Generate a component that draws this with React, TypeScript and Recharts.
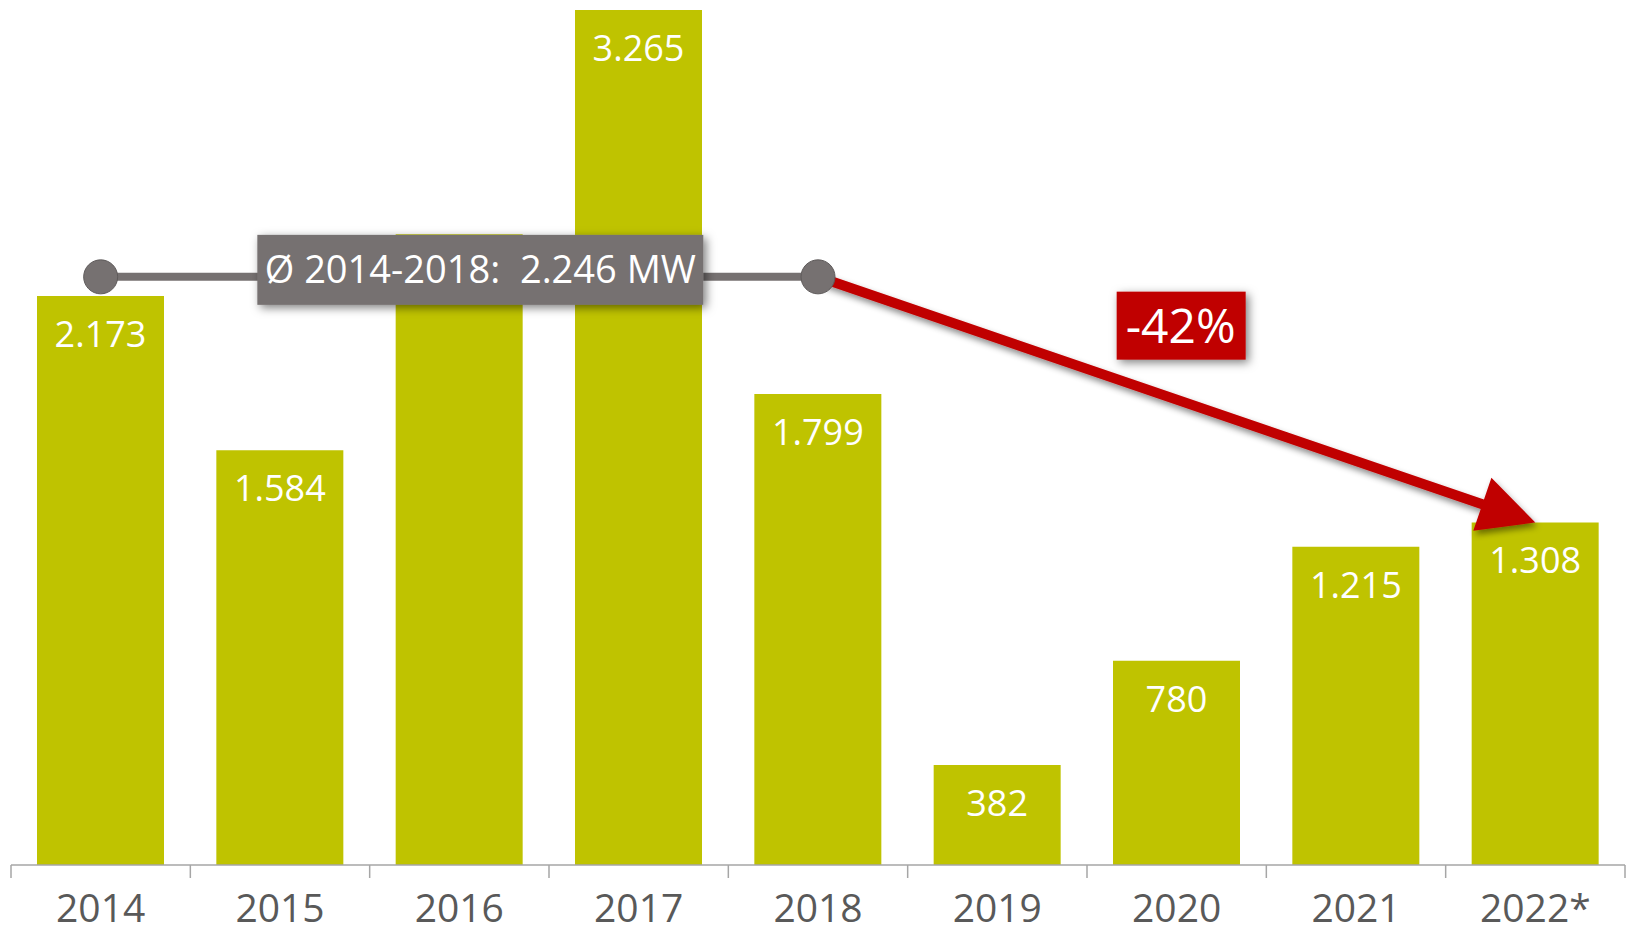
import { BarChart, Bar, XAxis, YAxis, LabelList, ReferenceLine, ReferenceDot } from 'recharts';

// Yearly installed capacity (MW)
const years = ['2014', '2015', '2016', '2017', '2018', '2019', '2020', '2021', '2022*'];
const installedMw = [2173, 1584, 2409, 3265, 1799, 382, 780, 1215, 1308];

// Average over the reference period
const avgPeriod = ['2014', '2018'];
const avgMw = 2246;

const W = 1631;
const H = 927;
const margin = { top: 10, right: 6, left: 11, bottom: 0 };
const BAND = (W - margin.left - margin.right) / years.length;

const FONT = '"Open Sans", sans-serif';
const BAR_COLOR = '#BFC300';
const GREY = '#767171';
const RED = '#C00000';

const chartData = years.map((year, i) => ({ year, mw: installedMw[i] }));

// German thousands separator: 2173 -> "2.173"
const fmt = (v: number) =>
  v >= 1000 ? `${Math.floor(v / 1000)}.${String(v % 1000).padStart(3, '0')}` : String(v);

const lastYear = years[years.length - 1];
const changePct = Math.round(((installedMw[installedMw.length - 1] - avgMw) / avgMw) * 100);

const renderTick = (props: any) => {
  const { x, y, payload } = props;
  const half = BAND / 2;
  return (
    <g>
      <line x1={x - half} y1={y} x2={x - half} y2={y + 13} stroke="#a6a6a6" strokeWidth={1.5} />
      {payload.value === lastYear && (
        <line x1={x + half} y1={y} x2={x + half} y2={y + 13} stroke="#a6a6a6" strokeWidth={1.5} />
      )}
      <text x={x} y={y + 57} textAnchor="middle" fill="#595959" fontSize={39} fontFamily={FONT}>
        {payload.value}
      </text>
    </g>
  );
};

const renderValue = (props: any) => {
  const { x, y, width, value, index } = props;
  // the 2016 value sits behind the average box
  if (years[index] === '2016') return null;
  return (
    <text x={x + width / 2} y={y + 51} textAnchor="middle" fill="#fff" fontSize={36} fontFamily={FONT}>
      {fmt(value)}
    </text>
  );
};

const arrowShape = (p: any) => {
  const { x1, y1, x2, y2 } = p;
  const dx = x2 - x1;
  const dy = y2 - y1;
  const len = Math.hypot(dx, dy) || 1;
  const ux = dx / len;
  const uy = dy / len;
  const nx = -uy;
  const ny = ux;
  const head = 56;
  const hw = 28;
  const sw = 5;
  const bx = x2 - ux * head;
  const by = y2 - uy * head;
  const pts = [
    [x1 + nx * sw, y1 + ny * sw],
    [bx + nx * sw, by + ny * sw],
    [bx + nx * hw, by + ny * hw],
    [x2, y2],
    [bx - nx * hw, by - ny * hw],
    [bx - nx * sw, by - ny * sw],
    [x1 - nx * sw, y1 - ny * sw],
  ]
    .map((q) => q.join(','))
    .join(' ');
  return (
    <g>
      <defs>
        <filter id="softShadow" x="-20%" y="-20%" width="140%" height="140%">
          <feDropShadow dx="2" dy="4" stdDeviation="3" floodColor="#000" floodOpacity="0.45" />
        </filter>
        <filter id="boxShadow" x="-20%" y="-30%" width="140%" height="160%">
          <feDropShadow dx="3" dy="3" stdDeviation="5" floodColor="#000" floodOpacity="0.5" />
        </filter>
      </defs>
      <polygon points={pts} fill={RED} filter="url(#softShadow)" />
    </g>
  );
};

const arrowLabel = (props: any) => {
  const { x, y, width, height } = props.viewBox;
  const cx = x + width / 2 + 4;
  const cy = y + height / 2 - 74;
  return (
    <g>
      <rect x={cx - 64} y={cy - 34} width={129} height={68} fill={RED} filter="url(#boxShadow)" />
      <text x={cx} y={cy + 17} textAnchor="middle" fill="#fff" fontSize={48} fontFamily={FONT}>
        {`${changePct}%`}
      </text>
    </g>
  );
};

const avgLabel = (props: any) => {
  const { x, y, width } = props.viewBox;
  const cx = x + width / 2 + 21;
  const top = y - 42;
  return (
    <g>
      <rect x={cx - 223} y={top} width={446} height={70} fill={GREY} filter="url(#boxShadow)" />
      <text
        x={cx}
        y={top + 48}
        textAnchor="middle"
        fill="#fff"
        fontSize={38}
        fontFamily={FONT}
        style={{ whiteSpace: 'pre' }}
      >
        {`Ø ${avgPeriod[0]}-${avgPeriod[1]}:  ${fmt(avgMw)} MW`}
      </text>
    </g>
  );
};

export default function App() {
  return (
    <div style={{ position: 'absolute', left: 0, top: 0, background: '#fff' }}>
      <BarChart width={W} height={H} data={chartData} margin={margin} barCategoryGap="14.5%">
        <XAxis
          dataKey="year"
          height={62}
          interval={0}
          tickLine={false}
          tickSize={0}
          tickMargin={0}
          axisLine={{ stroke: '#a6a6a6', strokeWidth: 1.5 }}
          tick={renderTick}
        />
        <YAxis hide domain={[0, 3265]} />
        <Bar dataKey="mw" fill={BAR_COLOR} isAnimationActive={false}>
          <LabelList dataKey="mw" content={renderValue} />
        </Bar>
        <ReferenceLine
          segment={[
            { x: avgPeriod[1], y: avgMw },
            { x: lastYear, y: installedMw[installedMw.length - 1] },
          ]}
          shape={arrowShape}
          label={arrowLabel}
        />
        <ReferenceLine
          segment={[
            { x: avgPeriod[0], y: avgMw },
            { x: avgPeriod[1], y: avgMw },
          ]}
          stroke={GREY}
          strokeWidth={8}
          label={avgLabel}
        />
        <ReferenceDot x={avgPeriod[0]} y={avgMw} r={17} fill={GREY} stroke="#5e5a5a" strokeWidth={1} />
        <ReferenceDot x={avgPeriod[1]} y={avgMw} r={17} fill={GREY} stroke="#5e5a5a" strokeWidth={1} />
      </BarChart>
    </div>
  );
}
